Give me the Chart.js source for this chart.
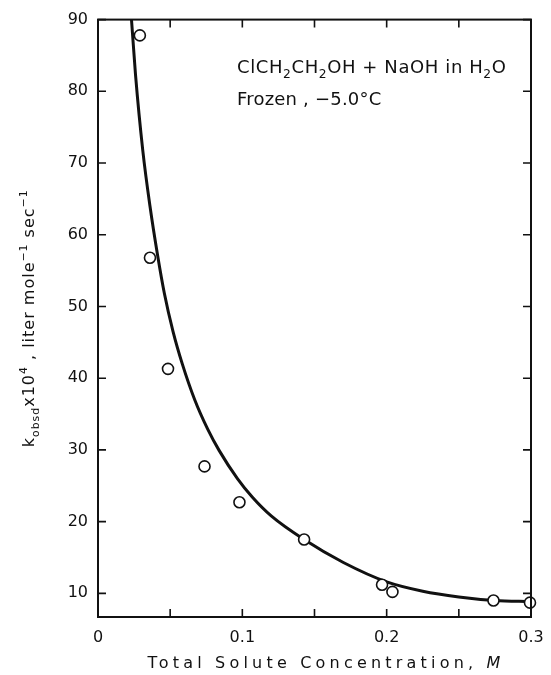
<!DOCTYPE html>
<html>
<head>
<meta charset="utf-8">
<script src="https://cdn.jsdelivr.net/npm/chart.js@4.4.0/dist/chart.umd.min.js"></script>
<style>
  html, body { margin: 0; padding: 0; background: #fff; }
  #wrap { width: 551px; height: 675px; }
</style>
</head>
<body>
<div id="wrap"><canvas id="kineticsChart" width="551" height="675"></canvas></div>
<script>
// measured points (total solute concentration, k_obsd x 10^4)
var concData = [0.029, 0.036, 0.0485, 0.0738, 0.098, 0.1428, 0.1968, 0.204, 0.274, 0.2993];
var kData = [87.8, 56.8, 41.3, 27.7, 22.7, 17.5, 11.2, 10.2, 9.0, 8.7];

// hand-drawn curve
var curveConc = [0.022, 0.0232, 0.026, 0.031, 0.036, 0.0414, 0.046, 0.052, 0.0584, 0.067, 0.076, 0.084, 0.0966, 0.107, 0.12, 0.1428, 0.17, 0.2, 0.225, 0.25, 0.275, 0.3];
var curveK = [93, 90, 82.3, 71.8, 64.0, 57.0, 51.8, 46.5, 42.0, 37.0, 32.9, 29.9, 26.0, 23.4, 20.8, 17.5, 14.3, 11.6, 10.3, 9.5, 9.0, 8.85];

var xTickValues = [0, 0.05, 0.1, 0.15, 0.2, 0.25, 0.3];
var xTickLabels = ['0', '', '0.1', '', '0.2', '', '0.3'];
var yTickValues = [10, 20, 30, 40, 50, 60, 70, 80, 90];
var yTickLabels = ['10', '20', '30', '40', '50', '60', '70', '80', '90'];

var INK = '#111';
var FONT = '"DejaVu Sans", sans-serif';

function toXY(xs, ys) {
  return xs.map(function(x, i) { return { x: x, y: ys[i] }; });
}

// text made of [string, kind] parts; kind '' normal, 'b' subscript, 'p' superscript, 'i' italic
function partFont(p, size) {
  var s = (p[1] === 'b' || p[1] === 'p') ? size * 0.68 : size;
  return (p[1] === 'i' ? 'italic ' : '') + s + 'px ' + FONT;
}

function richWidth(ctx, parts, size, spacing) {
  var w = 0;
  parts.forEach(function(p) {
    ctx.font = partFont(p, size);
    ctx.letterSpacing = spacing + 'px';
    w += ctx.measureText(p[0]).width;
  });
  return w;
}

function drawRich(ctx, parts, x, y, size, spacing, align) {
  var total = richWidth(ctx, parts, size, spacing);
  var cx = align === 'center' ? x - total / 2 : x;
  ctx.textAlign = 'left';
  ctx.textBaseline = 'alphabetic';
  parts.forEach(function(p) {
    var dy = p[1] === 'b' ? size * 0.3 : (p[1] === 'p' ? -size * 0.45 : 0);
    ctx.font = partFont(p, size);
    ctx.letterSpacing = spacing + 'px';
    ctx.fillText(p[0], cx, y + dy);
    cx += ctx.measureText(p[0]).width;
  });
}

var framePlugin = {
  id: 'frame',
  afterDraw: function(chart) {
    var ctx = chart.ctx;
    var a = chart.chartArea;
    var xs = chart.scales.x;
    var ys = chart.scales.y;
    var tick = 8;
    ctx.save();
    ctx.strokeStyle = INK;
    ctx.fillStyle = INK;
    ctx.lineWidth = 2;
    ctx.strokeRect(a.left, a.top, a.right - a.left, a.bottom - a.top);

    ctx.lineWidth = 1.6;
    ctx.beginPath();
    xTickValues.forEach(function(v) {
      var px = xs.getPixelForValue(v);
      ctx.moveTo(px, a.bottom); ctx.lineTo(px, a.bottom - tick);
      ctx.moveTo(px, a.top); ctx.lineTo(px, a.top + tick);
    });
    yTickValues.forEach(function(v) {
      var py = ys.getPixelForValue(v);
      ctx.moveTo(a.left, py); ctx.lineTo(a.left + tick, py);
      ctx.moveTo(a.right, py); ctx.lineTo(a.right - tick, py);
    });
    ctx.stroke();

    // axis titles
    drawRich(ctx, [['Total Solute Concentration, ', ''], ['M', 'i']], 326, 668, 16, 4.2, 'center');

    ctx.save();
    ctx.translate(34, (a.top + a.bottom) / 2);
    ctx.rotate(-Math.PI / 2);
    drawRich(ctx, [['k', ''], ['obsd', 'b'], ['x10', ''], ['4', 'p'], [' , liter mole', ''], ['\u22121', 'p'], [' sec', ''], ['\u22121', 'p']], 0, 0, 16, 1, 'center');
    ctx.restore();

    // reaction annotation
    drawRich(ctx, [['ClCH', ''], ['2', 'b'], ['CH', ''], ['2', 'b'], ['OH + NaOH in H', ''], ['2', 'b'], ['O', '']], 237, 73, 18, 0.6, 'left');
    drawRich(ctx, [['Frozen , \u22125.0\u00b0C', '']], 237, 105, 18, 0.2, 'left');
    ctx.restore();
  }
};

new Chart(document.getElementById('kineticsChart'), {
  type: 'scatter',
  data: {
    datasets: [
      {
        label: 'Observed',
        data: toXY(concData, kData),
        order: 0,
        clip: false,
        pointStyle: 'circle',
        pointRadius: 5.5,
        pointHoverRadius: 5.5,
        pointBorderWidth: 1.6,
        pointBorderColor: INK,
        pointBackgroundColor: '#fff',
        showLine: false
      },
      {
        label: 'Curve',
        data: toXY(curveConc, curveK),
        order: 1,
        showLine: true,
        borderColor: INK,
        borderWidth: 3,
        pointRadius: 0,
        pointHoverRadius: 0,
        cubicInterpolationMode: 'monotone',
        fill: false
      }
    ]
  },
  options: {
    responsive: false,
    animation: false,
    events: [],
    layout: { padding: { top: 18, right: 20, left: 0, bottom: 0 } },
    plugins: {
      legend: { display: false },
      tooltip: { enabled: false }
    },
    scales: {
      x: {
        type: 'linear',
        min: 0,
        max: 0.3,
        grid: { display: false, drawTicks: false },
        border: { display: false },
        afterBuildTicks: function(scale) {
          scale.ticks = xTickValues.map(function(v) { return { value: v }; });
        },
        afterFit: function(scale) {
          scale.height = 58;
          scale.paddingLeft = 0;
          scale.paddingRight = 0;
        },
        ticks: {
          padding: 11,
          color: INK,
          font: { family: FONT, size: 16 },
          maxRotation: 0,
          autoSkip: false,
          callback: function(value, index) { return xTickLabels[index]; }
        }
      },
      y: {
        type: 'linear',
        min: 6.7,
        max: 90,
        grid: { display: false, drawTicks: false },
        border: { display: false },
        afterBuildTicks: function(scale) {
          scale.ticks = yTickValues.map(function(v) { return { value: v }; });
        },
        afterFit: function(scale) { scale.width = 98; },
        ticks: {
          padding: 10,
          color: INK,
          font: { family: FONT, size: 16 },
          autoSkip: false,
          callback: function(value, index) { return yTickLabels[index]; }
        }
      }
    }
  },
  plugins: [framePlugin]
});
</script>
</body>
</html>
